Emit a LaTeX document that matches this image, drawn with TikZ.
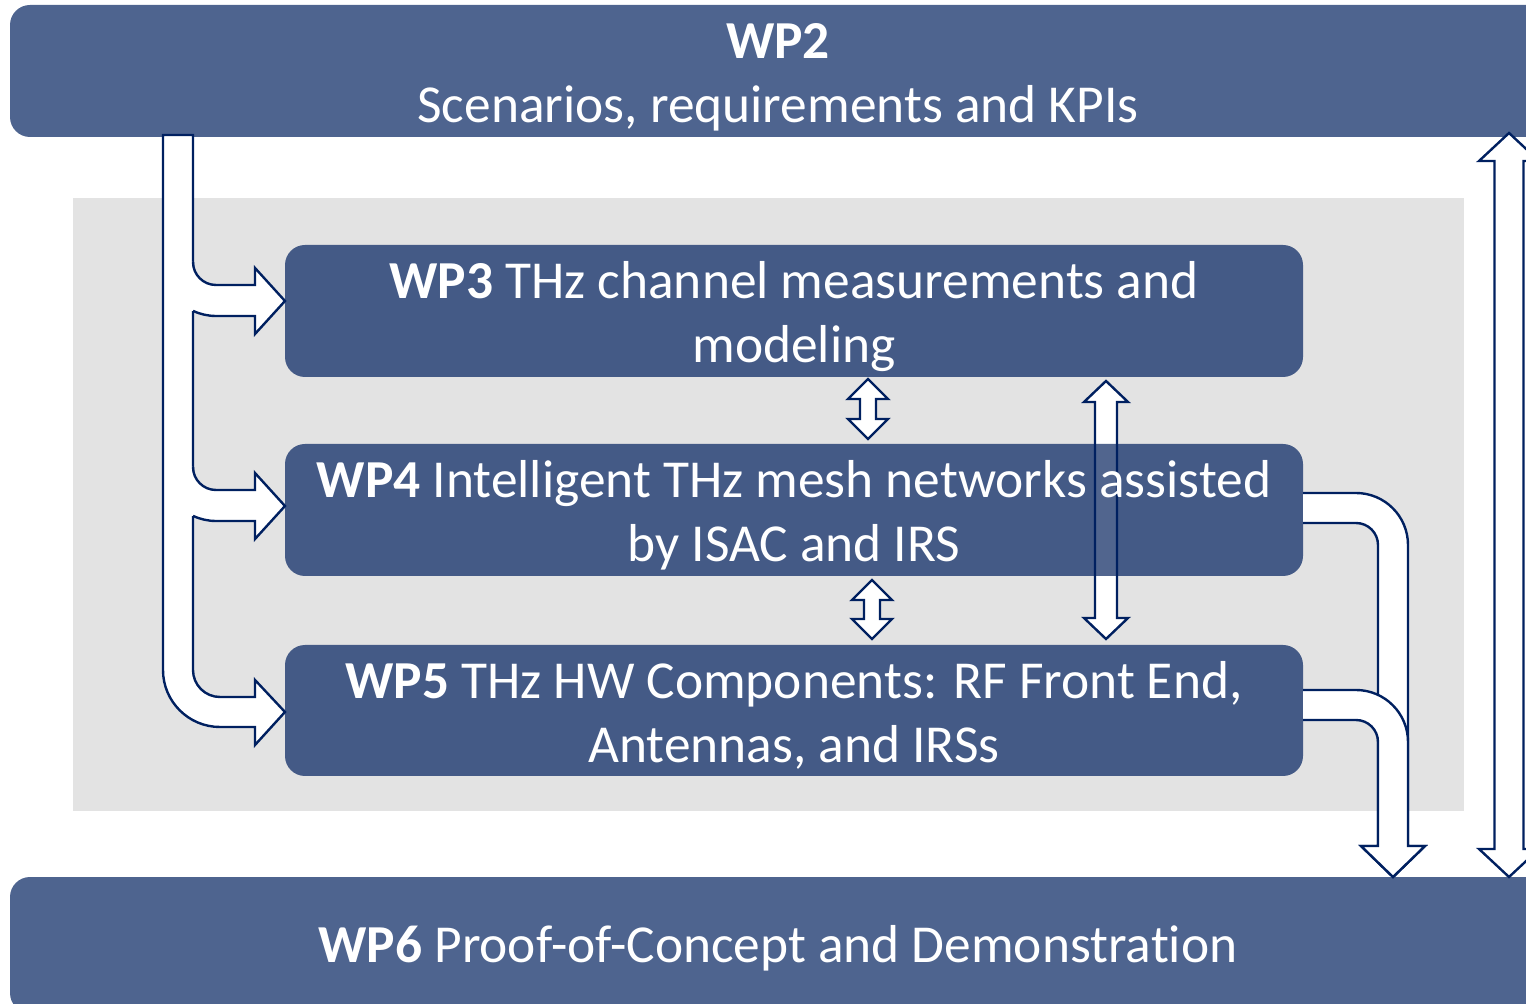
\documentclass[tikz,border=0pt]{standalone}
\usepackage{fontspec}
\setmainfont{Carlito}[Ligatures=NoCommon]
\definecolor{outerblue}{RGB}{78,100,143}
\definecolor{innerblue}{RGB}{68,90,134}
\definecolor{navy}{RGB}{0,32,96}
\definecolor{panelgray}{RGB}{227,227,227}
\tikzset{
  wpbox/.style={rectangle, rounded corners=10pt, inner sep=0pt, draw=none},
  outerbox/.style={wpbox, fill=outerblue, minimum width=768pt},
  innerbox/.style={wpbox, fill=innerblue, minimum width=509pt, minimum height=66pt},
  wptext/.style={text=white, align=center, inner sep=0pt, font=\fontsize{26.7}{32}\selectfont},
  blockarrow/.style={draw=navy, line width=1.2pt, line join=miter, fill=white},
  arrowline/.style={draw=navy, line width=1.2pt, line join=miter},
}
\begin{document}
\begin{tikzpicture}[x=0.5pt,y=-0.5pt]
\useasboundingbox (0,0) rectangle (1526,1004);
\clip (0,0) rectangle (1526,1004);
% panel
\node[rectangle, fill=panelgray, inner sep=0pt, minimum width=695.5pt, minimum height=306.5pt] (panel) at (768.5,504.5) {};
% outer boxes
\node[outerbox, minimum height=66pt] (wp2) at (778,71) {};
\node[outerbox, minimum height=68pt] (wp6) at (778,945) {};
% inner boxes
\node[innerbox] (wp3) at (794,311) {};
\node[innerbox, minimum height=65.5pt] (wp5) at (794,710.5) {};
% long double arrow between WP3 and WP5 (under WP4)
\fill[white] (1106,381) -- (1128,402) -- (1117,402) -- (1117,618) -- (1128,618) -- (1106,639) -- (1084,618) -- (1095,618) -- (1095,402) -- (1084,402) -- cycle;
\node[innerbox] (wp4) at (794,510) {};
\fill[white, fill opacity=0.07] (1095,444) rectangle (1117,576);
\path[arrowline] (1106,381) -- (1128,402) -- (1117,402) -- (1117,618) -- (1128,618) -- (1106,639) -- (1084,618) -- (1095,618) -- (1095,402) -- (1084,402) -- cycle;
% small double arrows
\path[blockarrow] (868,379) -- (888,399) -- (876,399) -- (876,419) -- (888,419) -- (868,439) -- (848,419) -- (860,419) -- (860,399) -- (848,399) -- cycle;
\path[blockarrow] (872,580) -- (892,600) -- (880,600) -- (880,619) -- (892,619) -- (872,639) -- (852,619) -- (864,619) -- (864,600) -- (852,600) -- cycle;
% texts
\node[wptext] (t2) at (778,77) {\textbf{WP2}\\Scenarios, requirements and KPIs};
\node[wptext] (t3) at (794,316.5) {\textbf{WP3} THz channel measurements and\\modeling};
\node[wptext] (t4) at (794,515.5) {\textbf{WP4} Intelligent THz mesh networks assisted\\by ISAC and IRS};
\node[wptext] (t5) at (794,715) {\textbf{WP5} THz HW Components: RF Front End,\\Antennas, and IRSs};
\node[wptext] (t6) at (778,948) {\textbf{WP6} Proof-of-Concept and Demonstration};
% left bent arrow from WP2 to WP5
\path[blockarrow] (163,135) -- (193,135) -- (193,670) arc[start angle=180,end angle=90,radius=27] -- (255,697) -- (255,680) -- (285,712) -- (255,745) -- (255,727) -- (220,727) arc[start angle=90,end angle=180,radius=57] -- cycle;
% branches to WP3 and WP4
\foreach \dy in {0,205}{
  \begin{scope}[shift={(0,\dy)}]
    \fill[white] (190,262) -- (193,262) arc[start angle=180,end angle=90,radius=23] -- (255,285) -- (255,268) -- (285,301) -- (255,334) -- (255,316) -- (216,316) arc[start angle=90,end angle=115.2,radius=54] -- (190,311) -- cycle;
    \path[arrowline] (193,262) arc[start angle=180,end angle=90,radius=23] -- (255,285) -- (255,268) -- (285,301) -- (255,334) -- (255,316) -- (216,316) arc[start angle=90,end angle=115.2,radius=54];
  \end{scope}
}
% right bent arrows to WP6
\path[blockarrow] (1303,493) -- (1356,493) arc[start angle=-90,end angle=0,radius=52] -- (1408,846) -- (1425,846) -- (1393,877) -- (1361,846) -- (1378,846) -- (1378,545) arc[start angle=0,end angle=-90,radius=22] -- (1303,523);
\path[blockarrow] (1303,690) -- (1356,690) arc[start angle=-90,end angle=0,radius=52] -- (1408,846) -- (1425,846) -- (1393,877) -- (1361,846) -- (1378,846) -- (1378,742) arc[start angle=0,end angle=-90,radius=22] -- (1356,720) -- (1303,720);
% long right double arrow WP2 <-> WP6
\path[blockarrow] (1509,133) -- (1539,161) -- (1523.5,161) -- (1523.5,849) -- (1539,849) -- (1509,877) -- (1479,849) -- (1494.5,849) -- (1494.5,161) -- (1479,161) -- cycle;
\end{tikzpicture}
\end{document}
